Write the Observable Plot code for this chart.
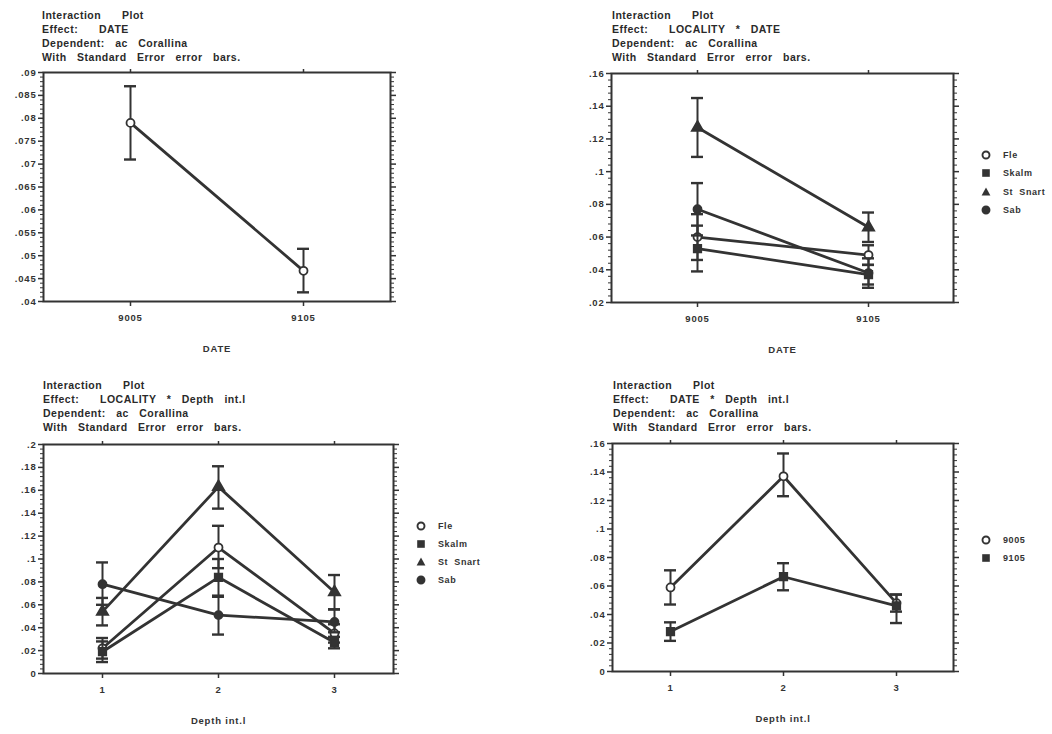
<!DOCTYPE html>
<html><head><meta charset="utf-8">
<script src="https://cdn.jsdelivr.net/npm/d3@7"></script>
<script src="https://cdn.jsdelivr.net/npm/@observablehq/plot@0.6"></script>
<style>
body{margin:0;background:#fff;width:1052px;height:734px;position:relative;overflow:hidden;font-family:"Liberation Sans",Arial,sans-serif;}
.title{position:absolute;font-weight:bold;font-size:10.5px;line-height:14px;color:#2a2a2a;word-spacing:7px;letter-spacing:0.5px;white-space:pre;}
.chart{position:absolute;}
.legend{position:absolute;font-weight:bold;font-size:9px;color:#333;}
.legend .row{position:absolute;white-space:nowrap;height:14px;line-height:14px;}
.legend svg{position:absolute;left:-6px;top:2px;overflow:visible;}
.legend span{position:absolute;left:17px;top:0;letter-spacing:0.6px;word-spacing:3px;}
</style></head><body>
<script>
// ---------- data ----------
const dates = ["9005", "9105"];
const depths = ["1", "2", "3"];
const localities = ["Fle", "Skalm", "St Snart", "Sab"];

// Panel 1: Effect DATE
const p1Mean = [0.079, 0.0467];
const p1Lo = [0.071, 0.042];
const p1Hi = [0.087, 0.0515];
const p1Ticks = [0.04, 0.045, 0.05, 0.055, 0.06, 0.065, 0.07, 0.075, 0.08, 0.085, 0.09];

// Panel 2: LOCALITY * DATE
const p2FleMean = [0.060, 0.049], p2FleLo = [0.046, 0.043], p2FleHi = [0.074, 0.055];
const p2SkalmMean = [0.053, 0.037], p2SkalmLo = [0.039, 0.031], p2SkalmHi = [0.067, 0.043];
const p2SnartMean = [0.127, 0.066], p2SnartLo = [0.109, 0.057], p2SnartHi = [0.145, 0.075];
const p2SabMean = [0.077, 0.038], p2SabLo = [0.061, 0.029], p2SabHi = [0.093, 0.047];
const p2Ticks = [0.02, 0.04, 0.06, 0.08, 0.1, 0.12, 0.14, 0.16];

// Panel 3: LOCALITY * Depth int.l
const p3FleMean = [0.022, 0.110, 0.035], p3FleLo = [0.013, 0.092, 0.027], p3FleHi = [0.031, 0.129, 0.043];
const p3SkalmMean = [0.019, 0.084, 0.027], p3SkalmLo = [0.010, 0.067, 0.022], p3SkalmHi = [0.028, 0.100, 0.032];
const p3SnartMean = [0.054, 0.163, 0.071], p3SnartLo = [0.042, 0.144, 0.056], p3SnartHi = [0.066, 0.181, 0.086];
const p3SabMean = [0.078, 0.051, 0.045], p3SabLo = [0.060, 0.034, 0.036], p3SabHi = [0.097, 0.068, 0.056];
const p3Ticks = [0, 0.02, 0.04, 0.06, 0.08, 0.1, 0.12, 0.14, 0.16, 0.18, 0.2];

// Panel 4: DATE * Depth int.l
const p4d9005Mean = [0.059, 0.137, 0.048], p4d9005Lo = [0.047, 0.123, 0.042], p4d9005Hi = [0.071, 0.153, 0.054];
const p4d9105Mean = [0.028, 0.0665, 0.046], p4d9105Lo = [0.0215, 0.057, 0.034], p4d9105Hi = [0.0345, 0.076, 0.054];
const p4Ticks = [0, 0.02, 0.04, 0.06, 0.08, 0.1, 0.12, 0.14, 0.16];

const titles1 = ["Interaction  Plot", "Effect:  DATE", "Dependent: ac Corallina", "With Standard Error error bars."];
const titles2 = ["Interaction  Plot", "Effect:  LOCALITY * DATE", "Dependent: ac Corallina", "With Standard Error error bars."];
const titles3 = ["Interaction  Plot", "Effect:  LOCALITY * Depth int.l", "Dependent: ac Corallina", "With Standard Error error bars."];
const titles4 = ["Interaction  Plot", "Effect:  DATE * Depth int.l", "Dependent: ac Corallina", "With Standard Error error bars."];

// ---------- style ----------
const ink = "#333";
const symOpenCircle = {symbol: "circle", fill: "white"};
const symSquare = {symbol: "square", fill: ink};
const symTriangle = {symbol: "triangle", fill: ink};
const symDot = {symbol: "circle", fill: ink};

const fmt = v => v === 0 ? "0" : d3.format(".3~f")(v).replace(/^0\./, ".");

function addTitle(lines, left, top) {
  const d = document.createElement("div");
  d.className = "title";
  d.style.left = left + "px"; d.style.top = top + "px";
  d.textContent = lines.join("\n");
  document.body.appendChild(d);
}

function addLegend(items, left, top, step) {
  const wrap = document.createElement("div");
  wrap.className = "legend";
  wrap.style.left = left + "px"; wrap.style.top = top + "px";
  items.forEach((it, i) => {
    const row = document.createElement("div");
    row.className = "row";
    row.style.top = (i * step) + "px";
    let shape;
    if (it.sym.symbol === "square") shape = `<rect x="-3.8" y="-3.8" width="7.6" height="7.6" fill="${ink}"/>`;
    else if (it.sym.symbol === "triangle") shape = `<path d="M0,-4.6L4.4,3.4L-4.4,3.4Z" fill="${ink}"/>`;
    else shape = `<circle r="3.5" fill="${it.sym.fill}" stroke="${ink}" stroke-width="1.9"/>`;
    row.innerHTML = `<svg width="12" height="10" viewBox="-6 -5 12 10">${shape}</svg><span>${it.name}</span>`;
    wrap.appendChild(row);
  });
  document.body.appendChild(wrap);
}

function minorTicks(ticks) {
  const out = [];
  for (let i = 0; i < ticks.length - 1; i++) {
    const a = ticks[i], b = ticks[i + 1];
    for (let k = 1; k < 5; k++) out.push(a + (b - a) * k / 5);
  }
  return out;
}

function panel(cfg) {
  const {box, frame, cats, series, yTicks, xLabel, labelOffset} = cfg;
  const marginLeft = frame.l - box.l, marginRight = box.l + box.w - frame.r;
  const marginTop = frame.t - box.t, marginBottom = box.t + box.h - frame.b;
  const minors = minorTicks(yTicks);
  const marks = [
    Plot.frame({stroke: ink, strokeWidth: 2}),
    Plot.axisY({anchor: "left", ticks: yTicks, tickSize: 5, tickPadding: 2, tickFormat: fmt, label: null, stroke: ink, strokeWidth: 1.5}),
    Plot.axisY({anchor: "left", ticks: minors, tickSize: 3, tickFormat: () => "", label: null, stroke: ink, strokeWidth: 1}),
    Plot.axisY({anchor: "right", ticks: yTicks, tickSize: 5, tickFormat: () => "", label: null, stroke: ink, strokeWidth: 1.5}),
    Plot.axisY({anchor: "right", ticks: minors, tickSize: 3, tickFormat: () => "", label: null, stroke: ink, strokeWidth: 1}),
    Plot.axisX({anchor: "bottom", tickSize: 5, tickPadding: 8, label: xLabel, labelAnchor: "center", labelArrow: "none", labelOffset: labelOffset, stroke: ink, strokeWidth: 1.5}),
    Plot.axisX({anchor: "top", tickSize: 4, tickFormat: () => "", label: null, stroke: ink, strokeWidth: 1.5})
  ];
  for (const s of series) {
    const rows = cats.map((c, i) => ({x: c, y: s.mean[i], lo: s.lo[i], hi: s.hi[i]}));
    marks.push(
      Plot.line(rows, {x: "x", y: "y", stroke: ink, strokeWidth: 2.8}),
      Plot.ruleX(rows, {x: "x", y1: "lo", y2: "hi", stroke: ink, strokeWidth: 2}),
      Plot.ruleY(rows, {y: "lo", x1: "x", x2: "x", insetLeft: -6, insetRight: -6, stroke: ink, strokeWidth: 2.4}),
      Plot.ruleY(rows, {y: "hi", x1: "x", x2: "x", insetLeft: -6, insetRight: -6, stroke: ink, strokeWidth: 2.4}),
      Plot.dot(rows, {x: "x", y: "y", symbol: s.sym.symbol, fill: s.sym.fill, stroke: ink, strokeWidth: 1.8, r: s.sym.symbol === "circle" ? 4 : 4.2})
    );
  }
  const chart = Plot.plot({
    width: box.w, height: box.h,
    marginLeft, marginRight, marginTop, marginBottom,
    x: {type: "point", domain: cats, padding: 0.5},
    y: {domain: [yTicks[0], yTicks[yTicks.length - 1]]},
    style: {fontFamily: "'Liberation Sans', Arial, sans-serif", fontSize: "9.5px", fontWeight: "bold", letterSpacing: "0.8px", color: ink, background: "transparent", overflow: "visible"},
    marks
  });
  chart.classList.add("chart");
  chart.style.left = box.l + "px"; chart.style.top = box.t + "px";
  document.body.appendChild(chart);
}

// Panel 1
addTitle(titles1, 42, 8);
panel({
  box: {l: 0, t: 60, w: 410, h: 310}, frame: {l: 43, r: 390, t: 72, b: 301},
  cats: dates, yTicks: p1Ticks, xLabel: "DATE", labelOffset: 50,
  series: [{name: "all", mean: p1Mean, lo: p1Lo, hi: p1Hi, sym: symOpenCircle}]
});

// Panel 2
const p2Series = [
  {name: localities[0], mean: p2FleMean, lo: p2FleLo, hi: p2FleHi, sym: symOpenCircle},
  {name: localities[1], mean: p2SkalmMean, lo: p2SkalmLo, hi: p2SkalmHi, sym: symSquare},
  {name: localities[2], mean: p2SnartMean, lo: p2SnartLo, hi: p2SnartHi, sym: symTriangle},
  {name: localities[3], mean: p2SabMean, lo: p2SabLo, hi: p2SabHi, sym: symDot}
];
addTitle(titles2, 612, 8);
panel({
  box: {l: 560, t: 60, w: 480, h: 310}, frame: {l: 611, r: 953, t: 73, b: 302},
  cats: dates, yTicks: p2Ticks, xLabel: "DATE", labelOffset: 50,
  series: p2Series
});
addLegend(p2Series, 986, 148, 18.3);

// Panel 3
const p3Series = [
  {name: localities[0], mean: p3FleMean, lo: p3FleLo, hi: p3FleHi, sym: symOpenCircle},
  {name: localities[1], mean: p3SkalmMean, lo: p3SkalmLo, hi: p3SkalmHi, sym: symSquare},
  {name: localities[2], mean: p3SnartMean, lo: p3SnartLo, hi: p3SnartHi, sym: symTriangle},
  {name: localities[3], mean: p3SabMean, lo: p3SabLo, hi: p3SabHi, sym: symDot}
];
addTitle(titles3, 43, 378);
panel({
  box: {l: 0, t: 430, w: 410, h: 304}, frame: {l: 43, r: 393, t: 444, b: 673},
  cats: depths, yTicks: p3Ticks, xLabel: "Depth int.l", labelOffset: 50,
  series: p3Series
});
addLegend(p3Series, 421, 519, 18);

// Panel 4
const p4Series = [
  {name: dates[0], mean: p4d9005Mean, lo: p4d9005Lo, hi: p4d9005Hi, sym: symOpenCircle},
  {name: dates[1], mean: p4d9105Mean, lo: p4d9105Lo, hi: p4d9105Hi, sym: symSquare}
];
addTitle(titles4, 613, 378);
panel({
  box: {l: 560, t: 430, w: 480, h: 304}, frame: {l: 612, r: 953, t: 443, b: 671},
  cats: depths, yTicks: p4Ticks, xLabel: "Depth int.l", labelOffset: 50,
  series: p4Series
});
addLegend(p4Series, 986, 533, 18.3);
</script></body></html>
